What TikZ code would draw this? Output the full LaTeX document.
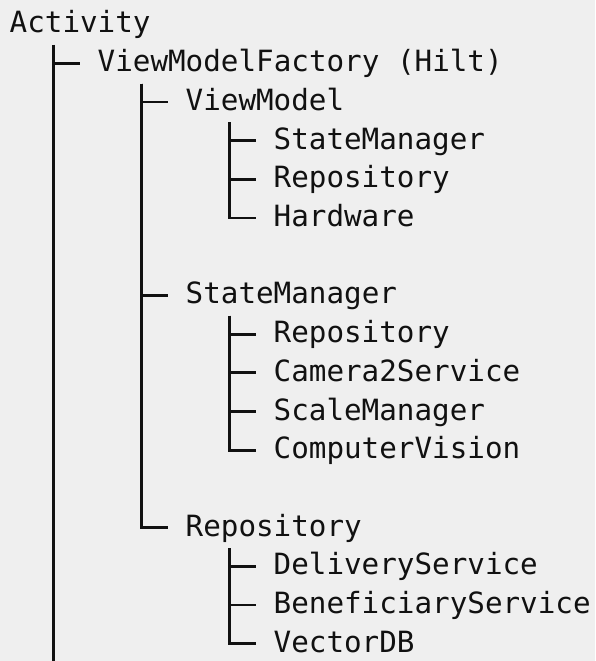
\documentclass[tikz,border=0pt]{standalone}
\usepackage{fontspec}
\newfontfamily\treemono{DejaVu Sans Mono}
\usetikzlibrary{calc}
\definecolor{bgc}{HTML}{EFEFEF}
\definecolor{ink}{HTML}{111111}
\begin{document}
\begin{tikzpicture}[x=1pt,y=-1pt,
  lbl/.style={anchor=base west, inner sep=0pt, outer sep=0pt, text=ink,
    font=\treemono\fontsize{29.25}{34}\selectfont},
  branch/.style={draw=ink, line width=2.8pt, line cap=butt, line join=miter}]
\fill[bgc] (0,0) rectangle (595,661);
\useasboundingbox (0,0) rectangle (595,661);
% labels (column c -> x = 9.7 + 17.6 c ; line n -> baseline 33 + 38.7 (n-1))
\node[lbl] (act)  at (9.7, 33)                       {Activity};
\node[lbl] (vmf)  at ({9.7+17.6*5},  {33+38.7*1})  {ViewModelFactory (Hilt)};
\node[lbl] (vm)   at ({9.7+17.6*10}, {33+38.7*2})  {ViewModel};
\node[lbl] (vmsm) at ({9.7+17.6*15}, {33+38.7*3})  {StateManager};
\node[lbl] (vmre) at ({9.7+17.6*15}, {33+38.7*4})  {Repository};
\node[lbl] (vmhw) at ({9.7+17.6*15}, {33+38.7*5})  {Hardware};
\node[lbl] (sm)   at ({9.7+17.6*10}, {33+38.7*7})  {StateManager};
\node[lbl] (smre) at ({9.7+17.6*15}, {33+38.7*8})  {Repository};
\node[lbl] (smcs) at ({9.7+17.6*15}, {33+38.7*9})  {Camera2Service};
\node[lbl] (smsc) at ({9.7+17.6*15}, {33+38.7*10}) {ScaleManager};
\node[lbl] (smcv) at ({9.7+17.6*15}, {33+38.7*11}) {ComputerVision};
\node[lbl] (re)   at ({9.7+17.6*10}, {33+38.7*13}) {Repository};
\node[lbl] (reds) at ({9.7+17.6*15}, {33+38.7*14}) {DeliveryService};
\node[lbl] (rebs) at ({9.7+17.6*15}, {33+38.7*15}) {BeneficiaryService};
\node[lbl] (revd) at ({9.7+17.6*15}, {33+38.7*16}) {VectorDB};
% trunk tops (just under each parent line) and the free end at the bottom
\coordinate (tact) at ($(act.base west)+(44,12)$);
\coordinate (tvmf) at ($(vmf.base west)+(44,12)$);
\coordinate (tvm)  at ($(vm.base west)+(44,12)$);
\coordinate (tsm)  at ($(sm.base west)+(44,12)$);
\coordinate (tre)  at ($(re.base west)+(44,12)$);
\coordinate (bot)  at ($(act.base west)+(44,628)$);
% connectors
\draw[branch] (tact) -- (bot);
\draw[branch] (tact) |- ($(vmf.base west)+(-17.6,-8.5)$);
\foreach \c in {vm,sm,re}
  \draw[branch] (tvmf) |- ($(\c.base west)+(-17.6,-8.5)$);
\foreach \c in {vmsm,vmre,vmhw}
  \draw[branch] (tvm) |- ($(\c.base west)+(-17.6,-8.5)$);
\foreach \c in {smre,smcs,smsc,smcv}
  \draw[branch] (tsm) |- ($(\c.base west)+(-17.6,-8.5)$);
\foreach \c in {reds,rebs,revd}
  \draw[branch] (tre) |- ($(\c.base west)+(-17.6,-8.5)$);
\end{tikzpicture}
\end{document}
